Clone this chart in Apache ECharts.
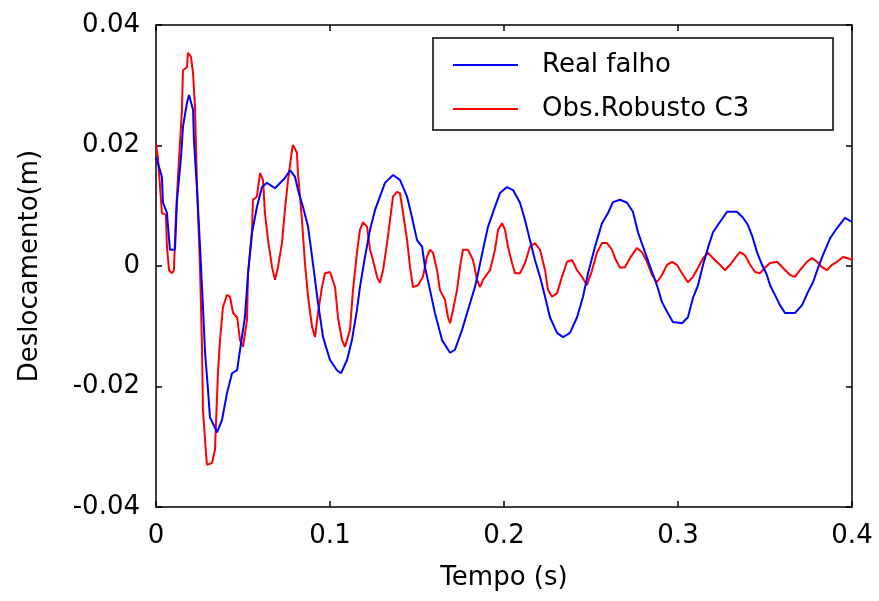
<!DOCTYPE html>
<html>
<head>
<meta charset="utf-8">
<script src="https://cdn.jsdelivr.net/npm/echarts@6/dist/echarts.min.js"></script>
<style>html,body{margin:0;padding:0;background:#fff}#c{width:879px;height:601px}</style>
</head>
<body>
<div id="c"></div>
<script>
// Time (s) and displacement (m)
const realTime = [0,0.0034,0.0040,0.0063,0.0080,0.0109,0.0121,0.0144,0.0155,0.0178,0.0190,0.0213,0.0218,0.0236,0.0253,0.0270,0.0282,0.0299,0.0310,0.0351,0.0379,0.0408,0.0437,0.0466,0.0483,0.0511,0.0529,0.0552,0.0580,0.0609,0.0638,0.0684,0.0741,0.0770,0.0799,0.0816,0.0845,0.0874,0.0897,0.0914,0.0931,0.0960,0.1000,0.1040,0.1063,0.1098,0.1126,0.1155,0.1172,0.1201,0.1230,0.1259,0.1287,0.1316,0.1362,0.1402,0.1443,0.1471,0.1500,0.1529,0.1546,0.1575,0.1603,0.1644,0.1690,0.1718,0.1759,0.1793,0.1833,0.1851,0.1879,0.1908,0.1948,0.1977,0.2017,0.2052,0.2092,0.2121,0.2149,0.2178,0.2207,0.2236,0.2264,0.2305,0.2339,0.2379,0.2420,0.2454,0.2483,0.2523,0.2563,0.2598,0.2626,0.2667,0.2707,0.2741,0.2770,0.2810,0.2851,0.2879,0.2908,0.2937,0.2971,0.3023,0.3057,0.3086,0.3115,0.3144,0.3172,0.3201,0.3241,0.3282,0.3339,0.3374,0.3402,0.3425,0.3454,0.3483,0.3511,0.3529,0.3557,0.3586,0.3615,0.3672,0.3713,0.3747,0.3776,0.3805,0.3833,0.3874,0.3914,0.3960,0.4000];
const realDisp = [0.0181,0.0148,0.0105,0.0088,0.0027,0.0027,0.0110,0.0181,0.0231,0.0271,0.0284,0.0259,0.0209,0.0126,0.0032,-0.0068,-0.0144,-0.0206,-0.0251,-0.0276,-0.0256,-0.0211,-0.0178,-0.0173,-0.0139,-0.0085,-0.0012,0.0055,0.0098,0.0131,0.0138,0.0129,0.0146,0.0159,0.0148,0.0126,0.0098,0.0065,0.0015,-0.0023,-0.0061,-0.0118,-0.0156,-0.0173,-0.0178,-0.0156,-0.0123,-0.0073,-0.0035,0.0015,0.0060,0.0093,0.0115,0.0138,0.0151,0.0143,0.0115,0.0081,0.0043,0.0032,-0.0002,-0.0040,-0.0078,-0.0123,-0.0144,-0.0139,-0.0106,-0.0073,-0.0035,-0.0012,0.0027,0.0065,0.0098,0.0121,0.0131,0.0126,0.0105,0.0076,0.0043,0.0010,-0.0018,-0.0051,-0.0085,-0.0111,-0.0118,-0.0111,-0.0085,-0.0051,-0.0012,0.0032,0.0071,0.0088,0.0106,0.0110,0.0105,0.0090,0.0056,0.0023,-0.0010,-0.0032,-0.0060,-0.0076,-0.0093,-0.0095,-0.0085,-0.0053,-0.0032,0.0002,0.0030,0.0056,0.0073,0.0090,0.0090,0.0080,0.0068,0.0051,0.0023,0.0002,-0.0015,-0.0032,-0.0048,-0.0065,-0.0078,-0.0078,-0.0065,-0.0043,-0.0027,-0.0003,0.0018,0.0046,0.0063,0.0080,0.0073];

const obsTime = [0,0.0011,0.0034,0.0057,0.0063,0.0075,0.0092,0.0103,0.0115,0.0132,0.0149,0.0155,0.0178,0.0184,0.0201,0.0213,0.0224,0.0236,0.0253,0.0264,0.0270,0.0287,0.0293,0.0322,0.0339,0.0356,0.0368,0.0385,0.0408,0.0425,0.0443,0.0466,0.0483,0.0500,0.0523,0.0529,0.0552,0.0557,0.0580,0.0598,0.0615,0.0626,0.0644,0.0667,0.0684,0.0701,0.0724,0.0741,0.0759,0.0782,0.0787,0.0810,0.0816,0.0839,0.0856,0.0874,0.0897,0.0914,0.0931,0.0954,0.0971,0.1000,0.1029,0.1046,0.1069,0.1086,0.1115,0.1132,0.1155,0.1172,0.1190,0.1213,0.1230,0.1247,0.1270,0.1287,0.1305,0.1328,0.1345,0.1362,0.1385,0.1402,0.1420,0.1443,0.1460,0.1477,0.1506,0.1534,0.1557,0.1575,0.1592,0.1615,0.1632,0.1661,0.1678,0.1690,0.1707,0.1730,0.1747,0.1764,0.1793,0.1822,0.1845,0.1862,0.1879,0.1920,0.1948,0.1966,0.1989,0.2006,0.2023,0.2046,0.2063,0.2092,0.2121,0.2149,0.2178,0.2207,0.2236,0.2253,0.2276,0.2305,0.2333,0.2362,0.2391,0.2420,0.2448,0.2477,0.2506,0.2534,0.2563,0.2592,0.2621,0.2638,0.2667,0.2695,0.2724,0.2764,0.2793,0.2822,0.2851,0.2879,0.2908,0.2937,0.2966,0.2994,0.3023,0.3057,0.3086,0.3115,0.3144,0.3172,0.3201,0.3241,0.3270,0.3299,0.3328,0.3356,0.3385,0.3414,0.3443,0.3471,0.3500,0.3529,0.3569,0.3603,0.3644,0.3672,0.3701,0.3741,0.3770,0.3799,0.3828,0.3856,0.3885,0.3914,0.3948,0.3977,0.4000];
const obsDisp = [0.0201,0.0181,0.0088,0.0085,0.0032,-0.0007,-0.0012,-0.0007,0.0088,0.0176,0.0259,0.0325,0.0330,0.0354,0.0347,0.0320,0.0264,0.0131,-0.0002,-0.0131,-0.0239,-0.0310,-0.0330,-0.0327,-0.0305,-0.0178,-0.0123,-0.0068,-0.0048,-0.0051,-0.0078,-0.0085,-0.0123,-0.0134,-0.0090,-0.0012,0.0060,0.0110,0.0115,0.0154,0.0143,0.0088,0.0043,-0.0002,-0.0023,-0.0002,0.0038,0.0093,0.0143,0.0193,0.0201,0.0188,0.0154,0.0076,0.0005,-0.0051,-0.0101,-0.0118,-0.0078,-0.0035,-0.0012,-0.0010,-0.0035,-0.0085,-0.0123,-0.0134,-0.0106,-0.0040,0.0022,0.0060,0.0073,0.0065,0.0027,0.0010,-0.0018,-0.0028,-0.0007,0.0038,0.0076,0.0115,0.0123,0.0121,0.0088,0.0043,-0.0002,-0.0035,-0.0032,-0.0018,0.0015,0.0027,0.0022,-0.0007,-0.0040,-0.0056,-0.0085,-0.0095,-0.0073,-0.0040,-0.0002,0.0027,0.0027,0.0010,-0.0023,-0.0035,-0.0023,-0.0007,0.0027,0.0060,0.0071,0.0060,0.0032,0.0005,-0.0012,-0.0012,0.0005,0.0032,0.0038,0.0027,-0.0007,-0.0040,-0.0051,-0.0045,-0.0018,0.0007,0.0010,-0.0007,-0.0018,-0.0032,-0.0007,0.0022,0.0038,0.0038,0.0027,0.0013,-0.0003,-0.0002,0.0013,0.0030,0.0023,0.0007,-0.0015,-0.0027,-0.0015,0.0002,0.0007,0.0002,-0.0012,-0.0027,-0.0018,-0.0003,0.0013,0.0022,0.0013,0.0002,-0.0007,0.0002,0.0013,0.0023,0.0018,0.0002,-0.0010,-0.0012,-0.0003,0.0005,0.0007,-0.0003,-0.0015,-0.0018,-0.0007,0.0007,0.0013,0.0007,-0.0002,-0.0007,0.0002,0.0007,0.0015,0.0013,0.0010];

const seriesNames = ['Real falho', 'Obs.Robusto C3'];
const xTicks = [0, 0.1, 0.2, 0.3, 0.4];
const yTicks = [-0.04, -0.02, 0, 0.02, 0.04];
const xTitle = 'Tempo (s)';
const yTitle = 'Deslocamento(m)';

const FONT = 'DejaVu Sans';
const pair = (a, b) => a.map((v, i) => [v, b[i]]);

const chart = echarts.init(document.getElementById('c'), null, {renderer: 'canvas'});
const axLine = {show: true, onZero: false, lineStyle: {color: '#000', width: 1.5}};
const axTick = {show: true, inside: true, length: 6, lineStyle: {color: '#000', width: 1.5}};
chart.setOption({
  animation: false,
  backgroundColor: '#fff',
  grid: {left: 156, right: 27, top: 25, bottom: 94, show: false},
  legend: {
    data: seriesNames,
    orient: 'vertical',
    left: 453, top: 52,
    padding: 0,
    icon: 'rect',
    itemWidth: 65, itemHeight: 2, itemGap: 18,
    textStyle: {fontFamily: FONT, fontSize: 26, color: '#000', padding: [0, 0, 0, 19]}
  },
  graphic: [{
    type: 'rect', shape: {x: 433, y: 38, width: 400, height: 92},
    style: {fill: 'none', stroke: '#000', lineWidth: 1.5}, z: 10
  }],
  xAxis: [{
    type: 'value', min: xTicks[0], max: xTicks[xTicks.length - 1], interval: 0.1,
    name: xTitle, nameLocation: 'middle', nameGap: 58,
    nameTextStyle: {fontFamily: FONT, fontSize: 26, color: '#000'},
    axisLine: axLine, axisTick: axTick,
    axisLabel: {margin: 16, fontFamily: FONT, fontSize: 26, color: '#000',
      formatter: v => v === 0 ? '0' : v.toFixed(1)},
    splitLine: {show: false}
  }, {
    type: 'value', position: 'top', min: xTicks[0], max: xTicks[xTicks.length - 1], interval: 0.1,
    axisLine: axLine, axisTick: axTick,
    axisLabel: {show: false}, splitLine: {show: false}
  }],
  yAxis: [{
    type: 'value', position: 'left', min: yTicks[0], max: yTicks[yTicks.length - 1], interval: 0.02,
    name: yTitle, nameLocation: 'middle', nameGap: 113,
    nameTextStyle: {fontFamily: FONT, fontSize: 26, color: '#000'},
    axisLine: axLine, axisTick: axTick,
    axisLabel: {margin: 16, fontFamily: FONT, fontSize: 26, color: '#000',
      formatter: v => Math.abs(v) < 1e-9 ? '0' : v.toFixed(2)},
    splitLine: {show: false}
  }, {
    type: 'value', position: 'right', min: yTicks[0], max: yTicks[yTicks.length - 1], interval: 0.02,
    axisLine: axLine, axisTick: axTick,
    axisLabel: {show: false}, splitLine: {show: false}
  }],
  series: [{
    name: seriesNames[1], type: 'line', data: pair(obsTime, obsDisp),
    showSymbol: false, symbol: 'none', color: '#ff0000',
    lineStyle: {color: '#ff0000', width: 2}, z: 2
  }, {
    name: seriesNames[0], type: 'line', data: pair(realTime, realDisp),
    showSymbol: false, symbol: 'none', color: '#0000ff',
    lineStyle: {color: '#0000ff', width: 2}, z: 3
  }]
});
</script>
</body>
</html>
